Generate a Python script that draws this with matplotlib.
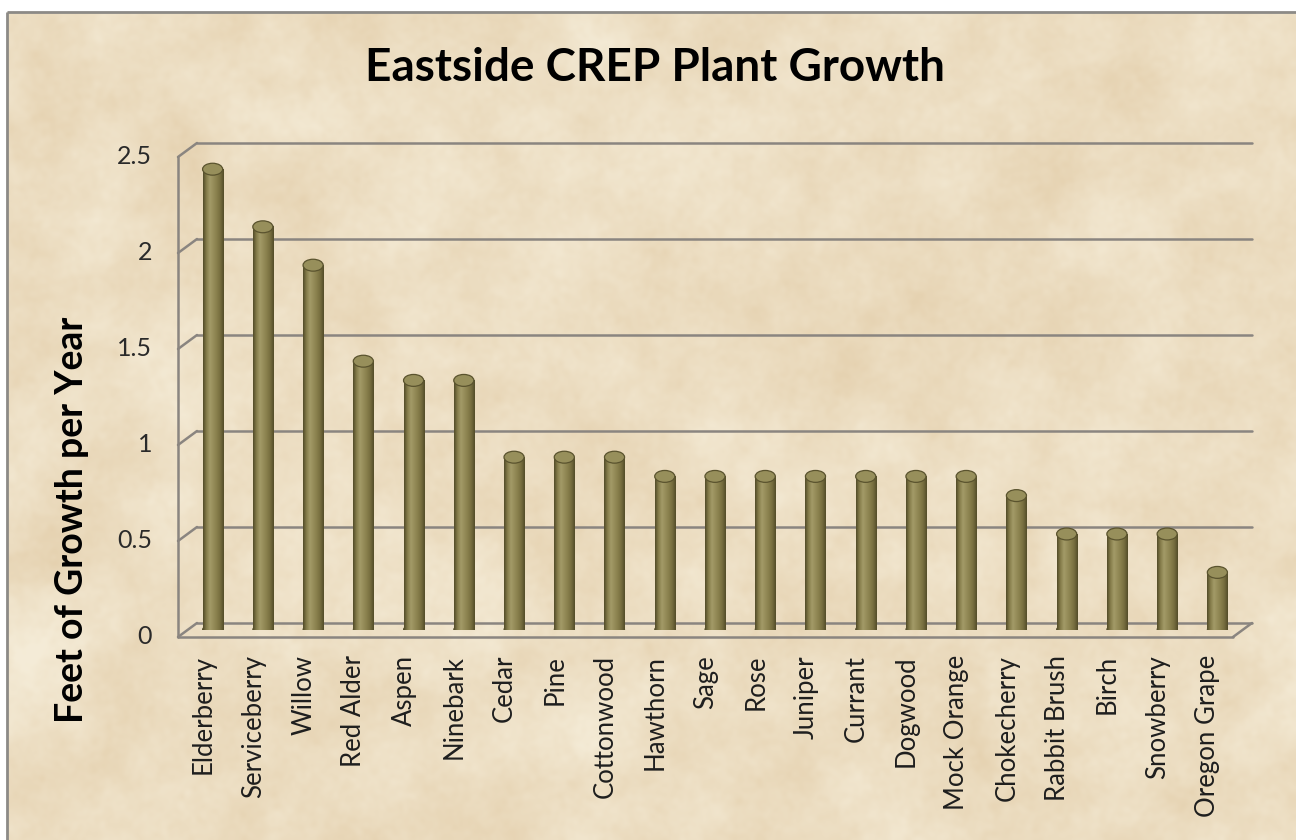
import numpy as np
import matplotlib
matplotlib.use("Agg")
import matplotlib.pyplot as plt
from matplotlib import transforms
from matplotlib.patches import Ellipse
from matplotlib.colors import LinearSegmentedColormap

plants = ["Elderberry", "Serviceberry", "Willow", "Red Alder", "Aspen", "Ninebark",
          "Cedar", "Pine", "Cottonwood", "Hawthorn", "Sage", "Rose", "Juniper",
          "Currant", "Dogwood", "Mock Orange", "Chokecherry", "Rabbit Brush",
          "Birch", "Snowberry", "Oregon Grape"]
growth = [2.4, 2.1, 1.9, 1.4, 1.3, 1.3, 0.9, 0.9, 0.9, 0.8, 0.8, 0.8, 0.8,
          0.8, 0.8, 0.8, 0.7, 0.5, 0.5, 0.5, 0.3]
y_ticks = [0, 0.5, 1, 1.5, 2, 2.5]
y_tick_labels = ["0", "0.5", "1", "1.5", "2", "2.5"]

FONT = "Lato"
W, H = 1296, 840
fig = plt.figure(figsize=(W / 100, H / 100), dpi=100)
fig.patch.set_facecolor("white")

# ---- parchment background -------------------------------------------------
bg = fig.add_axes([0, 0, 1, 1], zorder=0)
bg.set_xlim(0, W)
bg.set_ylim(H, 0)
bg.axis("off")

rng = np.random.default_rng(11)
th, tw = 414, 645
fy = np.fft.fftfreq(th)[:, None]
fx = np.fft.fftfreq(tw)[None, :]


def smooth_field(scale):
    n = rng.standard_normal((th, tw))
    f = np.real(np.fft.ifft2(np.fft.fft2(n) * np.exp(-(fx ** 2 + fy ** 2) * scale ** 2)))
    return (f - f.mean()) / f.std()


field = 0.5 * smooth_field(60) + 0.3 * smooth_field(20) + 0.2 * smooth_field(5)
field = np.clip((field + 2.5) / 5.0, 0, 1)
light = np.array([0.960, 0.925, 0.845])
dark = np.array([0.895, 0.815, 0.680])
tex = light[None, None, :] * (1 - field[..., None]) + dark[None, None, :] * field[..., None]
bg.imshow(tex, extent=[7, W, H, 12], aspect="auto", interpolation="bicubic", zorder=0)
bg.plot([7, 7], [H, 12], color="#8c8a86", lw=2, zorder=1, solid_capstyle="butt")
bg.plot([7, W], [12, 12], color="#8c8a86", lw=2, zorder=1, solid_capstyle="butt")

# ---- chart axes (mid-depth plane of the 3-D box) --------------------------
ax = fig.add_axes([187.5 / W, 210 / H, 1055 / W, 480 / H], zorder=1)
ax.set_facecolor("none")
ax.axis("off")
n = len(plants)
ax.set_xlim(-0.5, n - 0.5)
ax.set_ylim(0, 2.5)

dx, dy = 9.5, 7.0
back = transforms.offset_copy(ax.transData, fig=fig, x=dx, y=dy, units="dots")
front = transforms.offset_copy(ax.transData, fig=fig, x=-dx, y=-dy, units="dots")
grid_kw = dict(color="#8a8580", lw=1.8, solid_capstyle="round", clip_on=False)

x_lo, x_hi = -0.5, n - 0.5
for yv in y_ticks:
    ax.plot([x_lo, x_hi], [yv, yv], transform=back, **grid_kw)
    # diagonal along the side wall
    p_back = back.transform((x_lo, yv))
    p_front = front.transform((x_lo, yv))
    ax.plot([p_back[0], p_front[0]], [p_back[1], p_front[1]],
            transform=None, **grid_kw)
# front edge of the side wall
ax.plot([x_lo, x_lo], [0, 2.5], transform=front, **grid_kw)
# floor front edge and right corner
ax.plot([x_lo, x_hi], [0, 0], transform=front, **grid_kw)
pb = back.transform((x_hi, 0))
pf = front.transform((x_hi, 0))
ax.plot([pb[0], pf[0]], [pb[1], pf[1]], transform=None, **grid_kw)

# ---- cylinders ------------------------------------------------------------
bar_w = 0.4
cap_h = 0.062
olive = LinearSegmentedColormap.from_list(
    "olive", ["#524b28", "#857c4a", "#a39b68", "#958c59", "#887f4c", "#756c3e", "#534c29"])
grad = np.linspace(0, 1, 128)[None, :]
xs = np.arange(n)
bars = ax.bar(xs, growth, width=bar_w, color="#8a8150", edgecolor="none", zorder=3)
for i, (bar, val) in enumerate(zip(bars, growth)):
    x0 = bar.get_x()
    ax.add_patch(Ellipse((i, 0), bar_w, cap_h, facecolor="#746b3e",
                         edgecolor="#524b28", lw=0.8, zorder=2.9))
    ax.imshow(grad, cmap=olive, extent=[x0, x0 + bar_w, 0, val], aspect="auto",
              interpolation="bilinear", zorder=3.1)
    ax.add_patch(Ellipse((i, val), bar_w, cap_h, facecolor="#978f5b",
                         edgecolor="#5a532e", lw=0.9, zorder=3.3))
ax.set_xlim(-0.5, n - 0.5)
ax.set_ylim(0, 2.5)

# ---- tick labels ----------------------------------------------------------
ytick_tr = transforms.offset_copy(ax.transData, fig=fig, x=-dx - 26, y=-dy, units="dots")
for yv, lab in zip(y_ticks, y_tick_labels):
    ax.text(x_lo, yv, lab, transform=ytick_tr, ha="right", va="center",
            fontsize=18, family=FONT, color="#2a2a2a")

xtick_tr = transforms.offset_copy(ax.transData, fig=fig, x=-dx, y=-dy - 18, units="dots")
for i, lab in enumerate(plants):
    ax.text(i, 0, lab, transform=xtick_tr, ha="center", va="top", rotation=90,
            fontsize=18.5, family=FONT, color="#1e1e1e")

# ---- titles ---------------------------------------------------------------
fig.text(655 / W, 1 - 68 / H, "Eastside CREP Plant Growth", ha="center", va="center",
         fontsize=33, fontweight="bold", family=FONT, color="black")
fig.text(72 / W, 1 - 520 / H, "Feet of Growth per Year", ha="center", va="center",
         rotation=90, fontsize=27, fontweight="bold", family=FONT, color="black")

fig.savefig("out.png", dpi=100)
